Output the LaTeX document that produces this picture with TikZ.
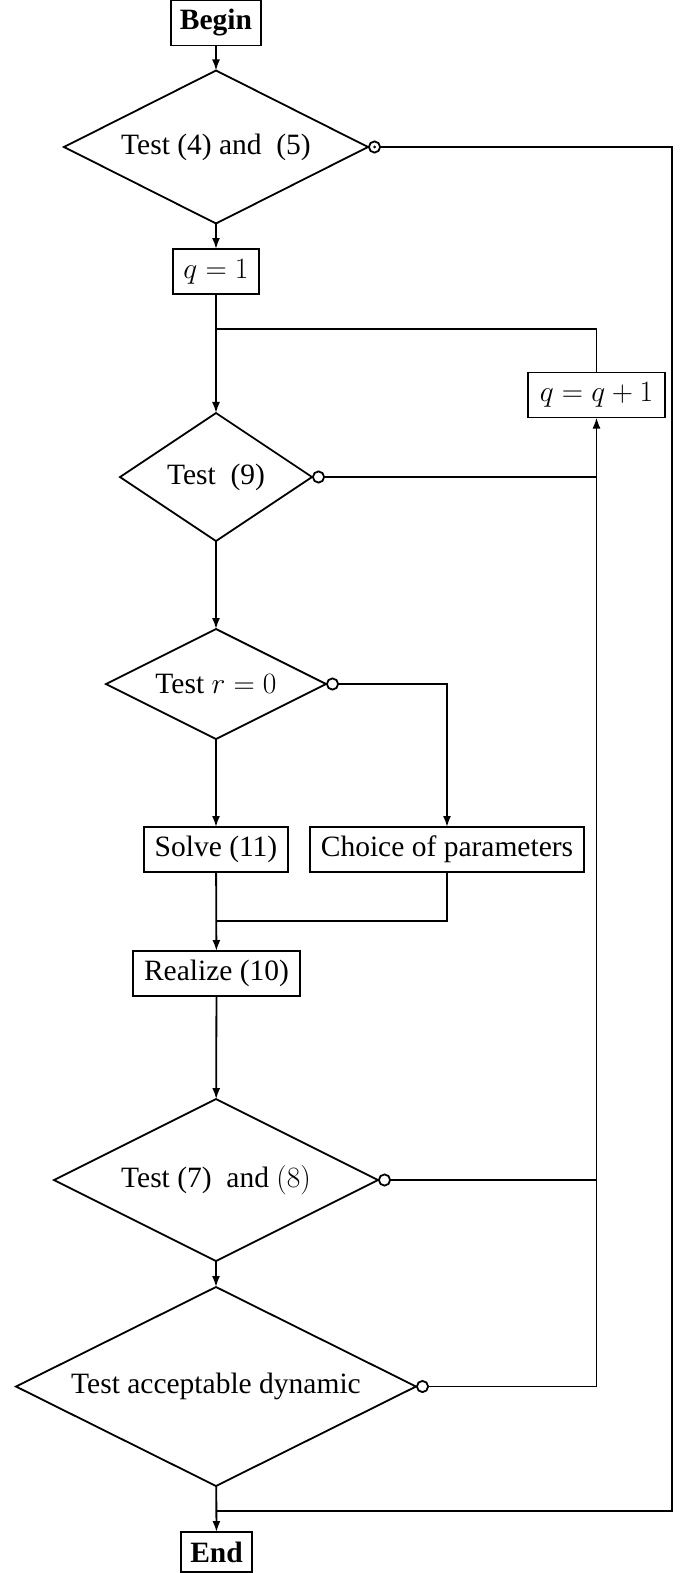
\RequirePackage{fix-cm}
\documentclass[tikz,border=0pt]{standalone}
\usepackage[no-math]{fontspec}
\setmainfont{Liberation Serif}
\usetikzlibrary{shapes.geometric,arrows.meta,calc}
\tikzset{
  every node/.style={font=\fontsize{29.5pt}{34pt}\selectfont},
  box/.style={draw, line width=1.8pt, rectangle, minimum height=45pt, inner xsep=4pt, inner ysep=0pt, outer sep=0pt},
  dia/.style={draw, line width=1.8pt, diamond, shape aspect=2, inner sep=0pt, outer sep=0pt},
  conn/.style={line width=1.8pt},
  arr/.style={conn, -{Latex[length=11pt,width=8pt]}},
  circ/.style={conn, {Circle[open,length=13pt,width=13pt]}-},
  circarr/.style={conn, {Circle[open,length=13pt,width=13pt]}-{Latex[length=11pt,width=8pt]}},
}
\begin{document}
\begin{tikzpicture}[x=1pt,y=-1pt]
\useasboundingbox (0,0) rectangle (685,1573);
% nodes
\node[box, minimum width=90pt] (begin) at (216,23) {\bfseries Begin};
\node[dia, minimum width=304pt, minimum height=153pt] (d1) at (216,147) {Test (4) and ~(5)};
\node[box, minimum width=86pt] (q1) at (216,271.5) {$q=1$};
\node[dia, minimum width=192pt, minimum height=128pt] (d9) at (216,477) {Test~~(9)};
\node[box, minimum width=137pt] (qq) at (596.5,395) {$q=q+1$};
\node[dia, minimum width=220pt, minimum height=110pt] (dr) at (216,684) {Test $r=0$};
\node[box, minimum width=144pt] (solve) at (216,849.5) {Solve (11)};
\node[box, minimum width=274pt] (choice) at (447,849.5) {Choice of parameters};
\node[box, minimum width=167pt] (realize) at (216.5,973.5) {Realize (10)};
\node[dia, minimum width=324pt, minimum height=162pt] (d7) at (216,1180) {Test (7)~~and $(8)$};
\node[dia, minimum width=400pt, minimum height=199pt] (dacc) at (216,1386.5) {Test acceptable dynamic};
\node[box, minimum width=71pt, minimum height=40pt] (end) at (216.5,1552) {\bfseries End};
% helper coordinates
\coordinate (j1) at (216,329);
\coordinate (j2) at (216,921);
\coordinate (j3) at (216,1511);
\coordinate (c1) at (672,1511);
% connectors
\draw[arr] (begin) -- (d1);
\draw[arr] (d1) -- (q1);
\draw[arr] (q1) -- (d9);
\draw[conn] (qq.north) |- (j1);
\draw[circ] (d1.east) -| (c1) -- (j3);
\fill ($(d1.east)+(6.5,0)$) circle (1.5pt);
\draw[circ] (d9.east) -- (d9.east -| qq.south);
\draw[arr] (d9) -- (dr);
\draw[circarr] (dr.east) -| (choice.north);
\draw[arr] (dr) -- (solve);
\draw[conn] (choice.south) |- (j2);
\draw[arr] (solve) -- (realize);
\draw[arr] (realize) -- (d7);
\draw[circ] (d7.east) -- (d7.east -| qq.south);
\draw[arr] (d7) -- (dacc);
\draw[circarr] (dacc.east) -| (qq.south);
\draw[arr] (dacc) -- (end);
\end{tikzpicture}
\end{document}
